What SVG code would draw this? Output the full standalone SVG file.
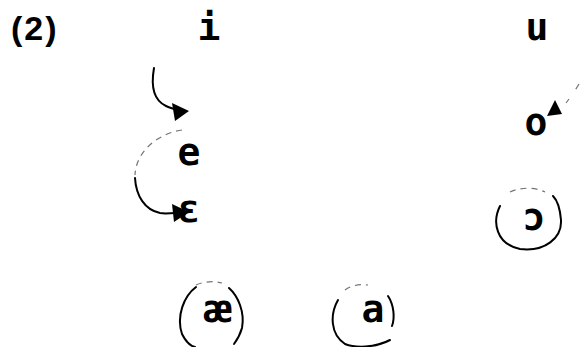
<svg xmlns="http://www.w3.org/2000/svg" width="582" height="347" viewBox="0 0 582 347">
<defs>
<style>
.t{font-family:"DejaVu Sans Mono","Liberation Mono",monospace;font-weight:bold;fill:#000;text-anchor:middle;font-size:38px}
.lbl{font-family:"Liberation Sans",Arial,sans-serif;font-weight:bold;fill:#000;font-size:34px;letter-spacing:2px}
.c{fill:none;stroke:#000;stroke-width:2;stroke-linecap:round}
.f{fill:none;stroke:#000;stroke-width:1.2;stroke-dasharray:6 5;opacity:0.55}
.h{fill:#000}
</style>
</defs>
<rect width="582" height="347" fill="#fff"/>
<g id="label"><text class="lbl" x="11" y="40">(2)</text></g>
<g id="n-i"><text class="t" x="209" y="40">i</text></g>
<g id="n-u"><text class="t" x="537" y="40">u</text></g>
<g id="n-e"><text class="t" x="189" y="165">e</text></g>
<g id="n-o"><text class="t" x="536" y="135">o</text></g>
<g id="n-eps"><text class="t" x="189" y="222">ɛ</text></g>
<g id="n-open-o"><text class="t" x="534" y="230">ɔ</text>
<path class="c" d="M500,206 C492,222 496,244 520,249 C545,252 562,238 561,220 C560,208 557,200 553,196"/>
<path class="f" d="M510,192 C520,187 535,187 545,192"/>
</g>
<g id="n-ae"><text class="t" x="218" y="322" textLength="29" lengthAdjust="spacingAndGlyphs">æ</text>
<path class="c" d="M196,287 C184,296 176,316 182,334 C186,342 190,346 195,347"/>
<path class="c" d="M229,288 C238,296 245,312 242,328 C240,335 237,340 234,344"/>
<path class="f" d="M196,285 C205,281 215,281 222,283"/>
</g>
<g id="n-a"><text class="t" x="373" y="322">a</text>
<path class="c" d="M338,300 C330,314 330,334 345,344 C355,348 375,348 390,340"/>
<path class="c" d="M388,296 C394,305 395,318 392,326"/>
<path class="f" d="M345,290 C352,285 360,284 368,285"/>
</g>
<g id="connectors">
<path class="c" d="M154,68 C151,85 153,100 166,106 C170,108 174,109 178,110" stroke-width="1.6"/>
<polygon class="h" points="189,111 172,103 175,121"/>
<path class="f" d="M182,130 C160,133 136,150 135,175"/>
<path class="c" d="M135,178 C136,196 145,210 160,213 C166,214 170,213 176,213" stroke-width="1.6"/>
<polygon class="h" points="189,212 172,204 174,222"/>
<path class="f" d="M579,84 L574,92 M569,99 L566,103"/>
<polygon class="h" points="547,116 555,100 562,114"/>
</g>
</svg>
